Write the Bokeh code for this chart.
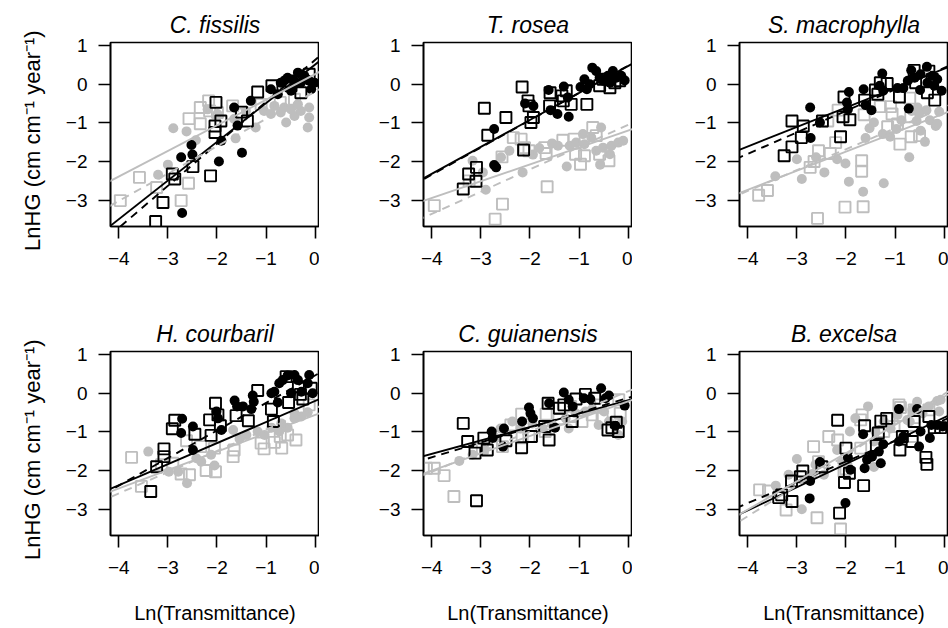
from bokeh.plotting import figure
from bokeh.layouts import row, column
from bokeh.models import Range1d, FixedTicker, Slope
from bokeh.embed import file_html
from bokeh.resources import INLINE

# ---------------------------------------------------------------------------
# Data: ln(height growth) vs ln(transmittance), four groups per species
#   dark_circ / dark_sq / grey_circ / grey_sq, plus four fitted lines
#   (order: dark solid, dark dashed, grey solid, grey dashed)
# ---------------------------------------------------------------------------

# C. fissilis
fis_dark_circ_x = [-2.71, -2.73, -2.50, -2.52, -1.96, -1.91, -1.49, -1.65, -1.58, -1.31, -0.70, -0.56, -0.35,
                   -0.22, -0.12, -0.42, -0.49, -0.76, -0.29, -0.08, -0.01, -0.90, -0.62, -0.18, -0.45]
fis_dark_circ_y = [-3.33, -1.89, -1.82, -1.57, -2.00, -1.46, -1.77, -0.60, -1.07, -0.43, 0.04, 0.17, 0.30,
                   0.22, 0.09, 0.00, -0.17, -0.26, 0.04, -0.13, 0.04, -0.13, 0.10, 0.14, 0.12]
fis_dark_sq_x = [-3.25, -3.10, -2.91, -2.86, -2.49, -2.13, -2.02, -2.04, -1.92, -2.04, -1.17, -1.38, -0.88,
                 -0.29, -0.49, -0.12, -1.50]
fis_dark_sq_y = [-3.55, -3.06, -2.32, -2.45, -2.13, -2.37, -0.47, -1.08, -0.95, -1.25, -0.20, -0.95, -0.04,
                 -0.22, -0.04, 0.26, -0.72]
fis_grey_circ_x = [-2.89, -2.62, -2.43, -3.00, -3.20, -2.19, -1.99, -1.62, -1.65, -1.41, -1.21, -1.04, -0.83,
                   -0.63, -0.59, -0.42, -0.29, -0.12, -0.12, -0.15, -0.70, -0.90, -0.49, -0.35]
fis_grey_circ_y = [-1.14, -1.22, -1.45, -2.08, -2.34, -0.65, -0.77, -1.40, -0.90, -0.69, -1.12, -0.69, -0.56,
                   -0.60, -0.99, -0.82, -0.69, -0.60, -0.86, -1.12, -0.73, -0.77, -0.65, -0.52]
fis_grey_sq_x = [-3.97, -3.58, -3.23, -2.73, -2.58, -2.57, -2.34, -2.34, -2.17, -2.15, -1.99, -1.68, -1.51,
                 -1.10, -0.71, -0.42]
fis_grey_sq_y = [-3.01, -2.41, -2.67, -3.01, -2.56, -0.89, -0.60, -1.02, -0.43, -0.69, -0.73, -0.56, -0.77,
                 -0.52, -0.47, -0.39]
fis_icpt = [0.51, 0.63, 0.26, -0.19]
fis_slope = [1.00, 1.086, 0.662, 0.707]

# T. rosea
ros_dark_circ_x = [-2.73, -2.73, -2.69, -2.10, -1.93, -1.62, -1.58, -1.44, -1.31, -1.21, -1.23, -0.89, -0.84,
                   -0.73, -0.65, -0.58, -0.51, -0.41, -0.31, -0.24, -0.14, -0.07, -0.37, -0.78, -0.97]
ros_dark_circ_y = [-1.16, -2.09, -2.15, -0.50, -0.56, -0.15, -0.67, -0.77, -0.06, -0.84, -0.34, 0.13, -0.13,
                   0.43, 0.34, 0.17, 0.09, 0.22, 0.34, 0.17, 0.22, 0.10, 0.04, 0.00, -0.07]
ros_dark_sq_x = [-3.36, -3.25, -3.10, -3.09, -2.86, -2.93, -2.49, -2.16, -2.13, -2.04, -2.02, -1.98, -1.93,
                 -1.60, -1.59, -1.35, -1.32, -1.26, -1.16, -0.84, -0.58, -0.37, -0.17, -0.27, -0.51]
ros_dark_sq_y = [-2.71, -2.32, -2.51, -2.15, -1.32, -0.62, -0.86, -0.07, -1.70, -0.43, -0.56, -0.99, -0.86,
                 -0.56, -0.22, -0.30, -0.43, -0.17, -0.52, -0.52, -0.04, -0.09, 0.09, 0.04, 0.13]
ros_grey_circ_x = [-3.17, -2.96, -2.90, -2.59, -2.42, -2.15, -1.94, -1.81, -1.55, -1.43, -1.25, -1.19, -1.06,
                   -0.89, -0.75, -0.55, -0.51, -0.57, -0.37, -0.34, -0.20, -0.10, -0.65, -0.92]
ros_grey_circ_y = [-1.98, -2.28, -2.73, -1.89, -1.72, -2.28, -1.82, -1.65, -1.53, -1.59, -2.13, -1.59, -1.51,
                   -1.55, -1.38, -1.12, -1.64, -2.08, -1.81, -1.59, -1.51, -1.46, -1.72, -1.29]
ros_grey_sq_x = [-3.95, -2.71, -2.56, -1.65, -2.34, -2.18, -2.11, -2.02, -1.70, -1.67, -1.33, -1.10, -1.07,
                 -0.97, -0.89, -0.72, -0.65, -0.58, -0.39, -3.24, -2.57]
ros_grey_sq_y = [-3.14, -3.49, -3.10, -2.65, -1.38, -1.42, -1.64, -1.72, -1.64, -1.79, -1.45, -1.42, -1.81,
                 -2.07, -1.85, -1.12, -1.33, -1.81, -1.98, -2.50, -1.88]
ros_icpt = [0.47, 0.48, -1.20, -1.05]
ros_slope = [0.697, 0.705, 0.436, 0.576]

# S. macrophylla
mac_dark_circ_x = [-2.73, -2.72, -2.53, -1.94, -1.98, -1.96, -1.64, -1.60, -1.48, -1.26, -1.24, -1.31, -0.95,
                   -0.83, -0.72, -0.74, -0.67, -0.60, -0.49, -0.35, -0.34, -0.24, -0.14, -0.05, -0.48, -0.20]
mac_dark_circ_y = [-0.60, -1.39, -0.99, -0.20, -0.47, -0.65, -0.13, -0.54, -0.67, 0.28, -0.17, -0.04, -0.10,
                   -0.10, -0.63, 0.09, 0.36, 0.17, -0.15, 0.45, 0.04, 0.22, 0.13, -0.17, 0.26, -0.04]
mac_dark_sq_x = [-3.10, -3.26, -3.10, -2.91, -2.87, -2.48, -2.11, -2.04, -1.92, -2.06, -1.62, -1.40, -1.30,
                 -1.16, -1.35, -0.91, -0.61, -0.58, -0.34, -0.31, -0.19, -0.24]
mac_dark_sq_y = [-0.95, -1.85, -1.62, -1.38, -1.08, -0.95, -1.36, -0.33, -0.92, -0.84, -0.41, -0.15, 0.04,
                 0.02, -0.26, -0.33, 0.36, 0.04, -0.22, 0.34, -0.41, 0.13]
mac_grey_circ_x = [-3.44, -3.00, -2.90, -2.61, -2.44, -2.18, -2.01, -1.94, -1.65, -1.60, -1.52, -1.43, -1.23,
                   -1.25, -1.10, -0.97, -0.87, -0.71, -0.66, -0.56, -0.54, -0.48, -0.39, -0.36, -0.29, -0.17,
                   -0.10, -0.14, -0.51]
mac_grey_circ_y = [-2.38, -1.94, -2.45, -1.89, -2.28, -1.94, -2.05, -2.52, -2.78, -1.39, -1.14, -0.99, -2.56,
                   -1.29, -1.36, -1.16, -0.93, -1.89, -0.69, -0.95, -0.60, -1.20, -1.49, -0.67, -0.93, -1.08,
                   -0.71, -1.02, -0.77]
mac_grey_sq_x = [-3.78, -3.60, -2.73, -2.65, -2.56, -2.58, -2.32, -2.21, -2.16, -2.02, -1.68, -1.68, -1.65,
                 -1.63, -1.30, -1.09, -1.06, -1.15, -0.95, -0.90, -0.67, -0.68, -0.50, -0.70, -2.37]
mac_grey_sq_y = [-2.87, -2.75, -2.15, -2.00, -1.72, -3.47, -1.79, -1.51, -0.67, -3.18, -1.98, -2.25, -3.17,
                 -0.79, -0.58, -0.58, -0.77, -1.10, -1.03, -1.55, -1.36, -0.84, -1.33, -0.36, -0.95]
mac_icpt = [0.40, 0.42, -0.76, -0.60]
mac_slope = [0.502, 0.555, 0.493, 0.540]

# H. courbaril
cou_dark_circ_x = [-2.71, -2.73, -2.49, -2.49, -2.01, -1.91, -1.98, -1.64, -1.59, -1.47, -1.27, -1.25, -1.30,
                   -0.89, -0.83, -0.73, -0.66, -0.56, -0.42, -0.35, -0.12, -0.15, -0.05, -0.49, -0.28, -0.76]
cou_dark_circ_y = [-0.66, -1.03, -0.86, -1.47, -0.47, -0.95, -0.65, -0.19, -0.34, -0.34, -0.06, -0.22, -0.41,
                   0.00, 0.04, 0.26, 0.34, 0.46, 0.47, 0.34, 0.47, 0.26, 0.00, 0.00, 0.04, -0.24]
cou_dark_sq_x = [-3.35, -3.23, -3.08, -3.08, -2.91, -2.86, -2.45, -2.12, -2.15, -2.03, -1.98, -1.93, -1.61,
                 -1.36, -1.17, -0.89, -0.85, -0.59, -0.54, -0.34, -0.30, -0.25, -0.08]
cou_dark_sq_y = [-2.54, -1.90, -1.44, -1.64, -0.92, -0.70, -1.06, -1.09, -0.69, -0.26, -0.56, -0.84, -0.58,
                 -0.71, 0.07, -0.41, -0.73, 0.43, -0.24, 0.17, -0.03, -0.15, 0.13]
cou_grey_circ_x = [-3.40, -2.98, -2.79, -2.61, -2.42, -2.32, -2.12, -2.05, -1.67, -1.54, -1.40, -1.17, -1.03,
                   -0.89, -0.69, -0.56, -0.42, -0.28, -0.15, -0.42, -0.73]
cou_grey_circ_y = [-1.51, -2.03, -2.03, -2.33, -1.68, -1.77, -1.59, -1.87, -0.95, -1.18, -1.08, -0.99, -1.08,
                   -0.89, -0.78, -0.89, -0.65, -0.60, -0.49, -0.52, -0.99]
cou_grey_sq_x = [-3.74, -3.54, -3.13, -2.90, -2.73, -2.56, -2.62, -2.33, -2.22, -2.03, -2.05, -1.67, -1.65,
                 -1.10, -1.04, -0.83, -0.68, -0.56, -0.39, -0.12, -0.71]
cou_grey_sq_y = [-1.66, -2.41, -1.85, -1.81, -2.09, -2.11, -1.23, -1.38, -2.00, -2.03, -1.42, -1.64, -1.47,
                 -1.29, -1.44, -1.27, -1.42, -1.08, -1.21, -0.30, -1.12]
cou_icpt = [-0.20, 0.46, -0.56, -0.39]
cou_slope = [0.545, 0.712, 0.476, 0.550]

# C. guianensis
gui_dark_circ_x = [-2.78, -2.76, -2.53, -2.55, -2.02, -1.99, -1.94, -1.61, -1.49, -1.31, -1.21, -0.90, -0.77,
                   -0.55, -0.39, -0.26, -0.07, -0.46, -1.13, -2.16]
gui_dark_circ_y = [-0.99, -1.16, -0.91, -1.38, -0.37, -0.52, -0.65, -0.26, -0.89, 0.02, -0.17, -0.13, -0.15,
                   0.13, -0.06, -0.84, -0.32, -0.13, -0.34, -0.73]
gui_dark_sq_x = [-3.36, -3.27, -3.12, -3.09, -2.94, -2.87, -2.49, -2.17, -1.97, -1.61, -1.63, -1.40, -1.31,
                 -1.06, -0.87, -0.68, -0.41, -0.24, -0.20, -0.33, -1.14, -1.70]
gui_dark_sq_y = [-0.78, -1.25, -1.55, -2.78, -1.16, -1.47, -1.23, -1.41, -1.12, -1.21, -0.26, -0.39, -0.30,
                 -0.15, -0.03, -0.13, -0.95, -0.75, -0.99, -0.89, -0.73, -0.86]
gui_grey_circ_x = [-3.44, -3.17, -2.94, -2.70, -2.60, -2.36, -2.19, -1.95, -1.74, -1.55, -1.27, -1.07, -0.87,
                   -0.73, -0.60, -0.49, -0.39, -0.20, -0.12, -1.21]
gui_grey_circ_y = [-1.75, -1.59, -1.47, -1.16, -0.91, -0.73, -0.91, -0.78, -0.91, -0.80, -0.65, -0.52, -0.47,
                   -0.41, -0.82, -0.47, -0.73, -1.08, -0.73, -0.91]
gui_grey_sq_x = [-4.11, -3.95, -3.75, -3.55, -2.97, -2.56, -2.39, -2.17, -2.16, -2.02, -1.69, -1.67, -1.41,
                 -1.14, -0.94, -0.73, -0.56, -0.53, -0.19, -0.16, -1.17]
gui_grey_sq_y = [-1.94, -1.94, -2.13, -2.67, -1.42, -1.38, -0.82, -0.54, -1.15, -1.12, -0.99, -0.54, -0.66,
                 -0.60, -0.73, -0.56, -0.30, -0.65, -0.17, -0.52, -0.34]
gui_icpt = [-0.18, -0.12, -0.21, 0.05]
gui_slope = [0.347, 0.384, 0.448, 0.520]

# B. excelsa
exc_dark_circ_x = [-2.73, -2.74, -2.53, -2.01, -1.96, -1.91, -1.62, -1.57, -1.47, -1.33, -1.29, -1.24, -0.92,
                   -0.83, -0.51, -0.48, -0.29, -0.26, -0.14, -0.03, -0.92, -0.55, -1.65]
exc_dark_circ_y = [-2.27, -2.72, -1.78, -2.84, -1.66, -1.98, -1.94, -1.72, -1.64, -1.51, -1.81, -1.32, -1.25,
                   -1.12, -1.38, -0.99, -1.16, -0.82, -0.82, -0.86, -0.41, -0.41, -1.06]
exc_dark_sq_x = [-3.37, -3.31, -3.10, -3.11, -2.88, -2.93, -2.49, -2.17, -2.13, -2.00, -2.03, -1.93, -1.64,
                 -1.62, -1.38, -1.29, -1.17, -0.90, -0.85, -0.65, -0.61, -0.37, -0.35, -0.31, -0.20, -0.07, -1.34]
exc_dark_sq_y = [-2.70, -2.63, -2.80, -2.27, -2.01, -2.16, -1.90, -0.70, -3.10, -1.42, -2.31, -2.07, -2.39,
                 -0.84, -1.35, -0.72, -0.65, -1.47, -1.12, -1.25, -0.73, -1.66, -1.84, -0.60, -0.89, -0.89, -1.03]
exc_grey_circ_x = [-3.43, -3.00, -3.17, -2.90, -2.68, -2.62, -2.45, -2.18, -2.08, -1.92, -1.81, -1.55, -1.43,
                   -1.40, -1.23, -1.09, -0.95, -0.75, -0.70, -0.55, -0.44, -0.31, -0.14, -0.07, -0.10, -0.65, -1.43]
exc_grey_circ_y = [-2.39, -1.70, -2.11, -3.00, -2.09, -1.85, -2.11, -1.47, -1.77, -0.99, -0.65, -0.34, -1.91,
                   -0.99, -0.73, -0.91, -0.56, -0.69, -0.73, -0.22, -0.52, -0.34, -0.20, -0.17, -0.47, -0.43, -1.25]
exc_grey_sq_x = [-3.76, -3.58, -3.22, -2.59, -2.66, -2.35, -2.17, -2.56, -2.11, -2.04, -2.00, -1.70, -1.67,
                 -1.70, -1.23, -1.12, -1.02, -0.92, -0.65, -0.61, -0.61, -0.31, -0.89]
exc_grey_sq_y = [-2.50, -2.53, -3.02, -3.22, -1.38, -1.12, -1.21, -1.77, -3.51, -2.01, -1.96, -0.69, -0.56,
                 -1.42, -0.99, -0.66, -0.86, -0.30, -1.12, -0.43, -0.63, -0.43, -0.37]
exc_icpt = [-0.63, -0.69, -0.09, -0.02]
exc_slope = [0.600, 0.538, 0.730, 0.790]

x_ticks = [-4, -3, -2, -1, 0]
y_ticks = [-3, -2, -1, 0, 1]

# ---------------------------------------------------------------------------
FONT = "Liberation Sans"
DARK = "#000000"
GREY = "#bebebe"
X_LIM = (-4.17, 0.09)
Y_LIM = (-3.68, 1.08)
Y_LABEL = "LnHG  (cm cm\u207b\u00b9  year\u207b\u00b9)"
X_LABEL = "Ln(Transmittance)"


def signed(v):
    return str(v).replace("-", "\u2212")


def panel(title, dc, ds, gc, gs, icpt, slope, width, left, height, top, bottom,
          show_ylabel, show_xlabel):
    p = figure(width=width, height=height, output_backend="svg", toolbar_location=None,
               x_range=Range1d(*X_LIM), y_range=Range1d(*Y_LIM),
               min_border_left=left, min_border_right=0,
               min_border_top=top, min_border_bottom=bottom,
               background_fill_color="white", border_fill_color="white")
    p.xgrid.visible = False
    p.ygrid.visible = False
    p.outline_line_color = "black"
    p.outline_line_width = 1.6
    p.outline_line_alpha = 1.0

    p.title.text = title
    p.title.text_font = FONT
    p.title.text_font_style = "italic"
    p.title.text_font_size = "23px"
    p.title.text_color = "black"
    p.title.align = "center"
    p.title.standoff = 9

    for ax, ticks in ((p.xaxis[0], x_ticks), (p.yaxis[0], y_ticks)):
        ax.ticker = FixedTicker(ticks=ticks)
        ax.major_label_overrides = {t: signed(t) for t in ticks}
        ax.minor_tick_line_color = None
        ax.major_tick_in = 0
        ax.major_tick_out = 12
        ax.major_tick_line_width = 1.6
        ax.major_tick_line_color = "black"
        ax.axis_line_width = 1.6
        ax.axis_line_color = "black"
        ax.major_label_text_font = FONT
        ax.major_label_text_font_size = "19px"
        ax.major_label_text_color = "black"
        ax.axis_label_text_font = FONT
        ax.axis_label_text_font_size = "20px"
        ax.axis_label_text_font_style = "normal"
        ax.axis_label_text_color = "black"
    p.xaxis[0].major_label_standoff = 13
    p.yaxis[0].major_label_standoff = 11

    if show_ylabel:
        p.yaxis[0].axis_label = Y_LABEL
        p.yaxis[0].axis_label_text_font_size = "22px"
        p.yaxis[0].axis_label_standoff = 18
    if show_xlabel:
        p.xaxis[0].axis_label = X_LABEL
        p.xaxis[0].axis_label_standoff = 25

    p.scatter(gc[0], gc[1], marker="circle", size=10, fill_color=GREY, line_color=None)
    p.scatter(gs[0], gs[1], marker="square", size=11, fill_color=None, line_color=GREY, line_width=1.9)
    p.scatter(dc[0], dc[1], marker="circle", size=10, fill_color=DARK, line_color=None)
    p.scatter(ds[0], ds[1], marker="square", size=11, fill_color=None, line_color=DARK, line_width=1.9)

    styles = [(DARK, "solid"), (DARK, "8 6"), (GREY, "solid"), (GREY, "8 6")]
    for a, b, (col, dash) in zip(icpt, slope, styles):
        p.add_layout(Slope(gradient=b, y_intercept=a, line_color=col, line_width=1.9, line_dash=dash))
    return p


ROW1 = dict(height=300, top=42, bottom=74, show_xlabel=False)
ROW2 = dict(height=328, top=51, bottom=93, show_xlabel=True)
COL1 = dict(width=319, left=110, show_ylabel=True)
COL2 = dict(width=313, left=104, show_ylabel=False)
COL3 = dict(width=316, left=107, show_ylabel=False)

p1 = panel("C. fissilis", (fis_dark_circ_x, fis_dark_circ_y), (fis_dark_sq_x, fis_dark_sq_y),
           (fis_grey_circ_x, fis_grey_circ_y), (fis_grey_sq_x, fis_grey_sq_y), fis_icpt, fis_slope,
           **COL1, **ROW1)
p2 = panel("T. rosea", (ros_dark_circ_x, ros_dark_circ_y), (ros_dark_sq_x, ros_dark_sq_y),
           (ros_grey_circ_x, ros_grey_circ_y), (ros_grey_sq_x, ros_grey_sq_y), ros_icpt, ros_slope,
           **COL2, **ROW1)
p3 = panel("S. macrophylla", (mac_dark_circ_x, mac_dark_circ_y), (mac_dark_sq_x, mac_dark_sq_y),
           (mac_grey_circ_x, mac_grey_circ_y), (mac_grey_sq_x, mac_grey_sq_y), mac_icpt, mac_slope,
           **COL3, **ROW1)
p4 = panel("H. courbaril", (cou_dark_circ_x, cou_dark_circ_y), (cou_dark_sq_x, cou_dark_sq_y),
           (cou_grey_circ_x, cou_grey_circ_y), (cou_grey_sq_x, cou_grey_sq_y), cou_icpt, cou_slope,
           **COL1, **ROW2)
p5 = panel("C. guianensis", (gui_dark_circ_x, gui_dark_circ_y), (gui_dark_sq_x, gui_dark_sq_y),
           (gui_grey_circ_x, gui_grey_circ_y), (gui_grey_sq_x, gui_grey_sq_y), gui_icpt, gui_slope,
           **COL2, **ROW2)
p6 = panel("B. excelsa", (exc_dark_circ_x, exc_dark_circ_y), (exc_dark_sq_x, exc_dark_sq_y),
           (exc_grey_circ_x, exc_grey_circ_y), (exc_grey_sq_x, exc_grey_sq_y), exc_icpt, exc_slope,
           **COL3, **ROW2)

layout = column(row(p1, p2, p3, spacing=0), row(p4, p5, p6, spacing=0), spacing=0)

with open("out.html", "w") as f:
    f.write(file_html(layout, INLINE, title="Height growth vs transmittance"))
